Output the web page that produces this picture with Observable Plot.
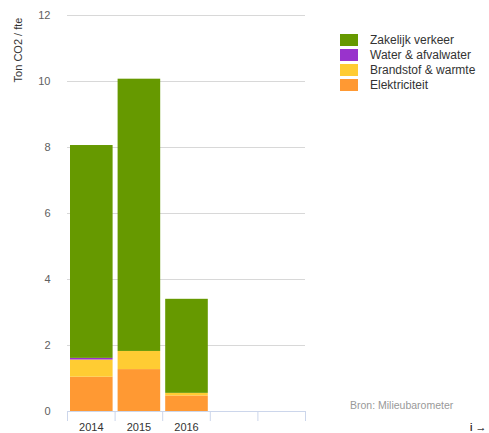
<!DOCTYPE html>
<html>
<head>
<meta charset="utf-8">
<script src="https://cdn.jsdelivr.net/npm/d3@7"></script>
<script src="https://cdn.jsdelivr.net/npm/@observablehq/plot@0.6"></script>
<style>
  html, body { margin: 0; padding: 0; background: #fff; overflow: hidden; }
  #wrap { position: relative; width: 489px; height: 433px; font-family: "Liberation Sans", Arial, sans-serif; }
  #ylabel { position: absolute; left: 18px; top: 50px; transform: translate(-50%, -50%) rotate(-90deg); font-size: 11px; color: #333; white-space: nowrap; }
  #legend { position: absolute; left: 340px; top: 32px; font-size: 12px; color: #333; }
  .li { display: flex; align-items: center; height: 15px; }
  .sw { width: 18px; height: 12px; margin-right: 12px; }
  #source { position: absolute; left: 350px; top: 399px; font-size: 10.5px; color: #999; }
</style>
</head>
<body>
<div id="wrap">
  <div id="chart"></div>
  <div id="ylabel">Ton CO2 / fte</div>
  <div id="legend"></div>
  <div id="source">Bron: Milieubarometer</div>
</div>
<script>
const years = ["2014", "2015", "2016"];
const slotCount = 5;
const series = ["Elektriciteit", "Brandstof & warmte", "Water & afvalwater", "Zakelijk verkeer"];
const colors = ["#ff9933", "#ffcc33", "#9933cc", "#669900"];
const elektriciteit = [1.04, 1.27, 0.47];
const brandstof = [0.52, 0.55, 0.08];
const water = [0.05, 0.0, 0.0];
const zakelijk = [6.45, 8.25, 2.85];
const yTicks = [0, 2, 4, 6, 8, 10, 12];

const values = [elektriciteit, brandstof, water, zakelijk];
const rows = [];
years.forEach((yr, i) => {
  let base = 0;
  series.forEach((s, k) => {
    const v = values[k][i];
    rows.push({i, series: s, y1: base, y2: base + v});
    base += v;
  });
});

const chart = Plot.plot({
  width: 489,
  height: 433,
  marginLeft: 67,
  marginRight: 184,
  marginTop: 15,
  marginBottom: 22,
  style: {fontFamily: "Liberation Sans, Arial, sans-serif", fontSize: "11px", color: "#606060", background: "#fff"},
  x: {domain: [0, slotCount], axis: null},
  y: {domain: [0, 12], axis: null},
  color: {domain: series, range: colors},
  marks: [
    Plot.gridY(yTicks.filter(d => d > 0), {stroke: "#d8d8d8", strokeOpacity: 1, strokeWidth: 1}),
    Plot.rect(rows.filter(d => d.y2 > d.y1), {x1: "i", x2: d => d.i + 1, y1: "y1", y2: "y2", fill: "series", insetLeft: 3, insetRight: 2}),
    Plot.ruleY([0], {stroke: "#ccd6eb", strokeWidth: 1}),
    Plot.axisX(d3.range(slotCount + 1), {tickSize: 10, tickFormat: () => "", stroke: "#ccd6eb", strokeOpacity: 1}),
    Plot.axisX(years.map((y, i) => i + 0.5), {tickSize: 0, tickPadding: 12, tickFormat: d => years[Math.floor(d)], fill: "#333", fontSize: 11}),
    Plot.axisY(yTicks, {tickSize: 0, tickPadding: 17, fill: "#606060", fontSize: 11})
  ]
});
document.getElementById("chart").appendChild(chart);

const legend = document.getElementById("legend");
const legendOrder = ["Zakelijk verkeer", "Water & afvalwater", "Brandstof & warmte", "Elektriciteit"];
legendOrder.forEach(s => {
  const d = document.createElement("div");
  d.className = "li";
  const sw = document.createElement("div");
  sw.className = "sw";
  sw.style.background = colors[series.indexOf(s)];
  const t = document.createElement("span");
  t.textContent = s;
  d.appendChild(sw); d.appendChild(t);
  legend.appendChild(d);
});
</script>
</body>
</html>
